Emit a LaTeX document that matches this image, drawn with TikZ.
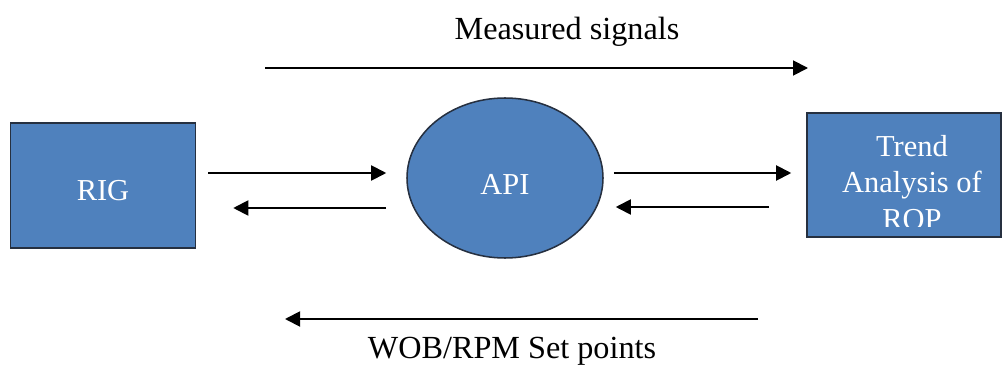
\documentclass[tikz,border=0pt]{standalone}
\usepackage{fontspec}
\setmainfont{Liberation Serif}
\usetikzlibrary{arrows.meta, positioning, calc, shapes.geometric}
\definecolor{blkFill}{RGB}{79,129,189}
\definecolor{blkEdge}{RGB}{38,48,64}

\begin{document}
\begin{tikzpicture}[
    x=0.3mm, y=-0.3mm,
    font=\fontsize{26}{31.5}\selectfont,
    box/.style={rectangle, draw=blkEdge, line width=1.3pt, fill=blkFill, inner sep=0pt},
    oval/.style={ellipse, draw=blkEdge, line width=1.3pt, fill=blkFill, inner sep=0pt, minimum width=58.8mm, minimum height=48mm},
    txt/.style={text=white, align=center, inner sep=0pt},
    arr/.style={-{Triangle[length=4.5mm, width=4.5mm]}, line width=1.6pt, black},
    lbl/.style={text=black, inner sep=0pt, font=\fontsize{27.5}{33}\selectfont},
]
\useasboundingbox (0,0) rectangle (1003,365);

% ========== BLOCKS ==========
\node[box, minimum width=55.5mm, minimum height=37.5mm] at (103,185.5) (rig) {};
\node[txt] at ($(rig.center)+(0,5)$) (rigtxt) {RIG};
\node[oval] at (505,178) (api) {};
\node[txt] at ($(api.center)+(0,6)$) (apitxt) {API};
\node[box, minimum width=58.2mm, minimum height=37.2mm] at (904,175) (trend) {};
\begin{scope}
  \clip (trend.north west) rectangle ($(trend.south east)+(0,-11)$);
  \node[txt] at ($(trend.center)+(8,7.5)$) (trendtxt) {Trend\\Analysis of\\ROP};
\end{scope}

% ========== RIG <-> API ==========
\draw[arr] ($(rig.east)+(12,-12.5)$) -- ($(api.west)+(-20,-5)$);
\draw[arr] ($(api.west)+(-20,30)$) -- ($(rig.east)+(37,22.5)$);

% ========== API <-> Trend ==========
\draw[arr] ($(api.east)+(10,-5)$) -- ($(trend.west)+(-15,-2)$);
\draw[arr] ($(trend.west)+(-37,32)$) -- ($(api.east)+(12,29)$);

% ========== Measured signals (top) ==========
\node[lbl] at (567,32) (meas) {Measured signals};
\coordinate (measL) at (265,68);
\coordinate (measR) at (808,68);
\draw[arr] (measL) -- (measR);

% ========== Set points (bottom) ==========
\node[lbl] at (512,351) (setp) {WOB/RPM Set points};
\coordinate (setR) at (758,319);
\coordinate (setL) at (285,319);
\draw[arr] (setR) -- (setL);

\end{tikzpicture}
\end{document}
